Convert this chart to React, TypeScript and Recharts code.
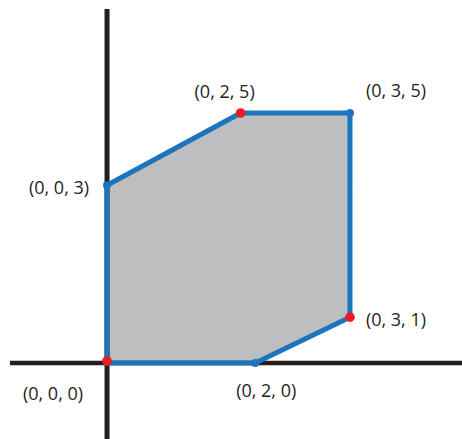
import React from "react";
import {
  ComposedChart,
  Area,
  Scatter,
  XAxis,
  YAxis,
  ReferenceLine,
} from "recharts";

// polygon vertices, in order round the outline (positions)
const vertexLabels = ["(0, 0, 0)", "(0, 0, 3)", "(0, 2, 5)", "(0, 3, 5)", "(0, 3, 1)", "(0, 2, 0)"];
const vertexX = [0, 0, 1.65, 3.0, 3.0, 1.83];
const vertexY = [0, 3.57, 5.02, 5.02, 0.92, 0];
const vertexMarked = [true, false, true, false, true, false];

// fill region as a band: low / high edge at each x
const bandX = [0, 1.65, 1.83, 3.0];
const bandLow = [0, 0, 0, 0.92];
const bandHigh = [3.57, 5.02, 5.02, 5.02];

const BLUE = "#1c75bc";
const RED = "#ed1c24";
const GRAY = "#bcbec0";
const INK = "#231f20";

// where each label sits relative to its vertex
const labelOffsets: [number, number][] = [
  [-54, 30],
  [-48, 2],
  [-16, -22],
  [46, -23],
  [46, 2],
  [11, 27],
];

const bandData = bandX.map((x, i) => ({ x, range: [bandLow[i], bandHigh[i]] }));

const outline = vertexX.map((x, i) => ({ x, y: vertexY[i], idx: i }));
// close the outline back at the first vertex
const outlineClosed = [...outline, { ...outline[0], idx: -1 }];

const Vertex = (props: any) => {
  const { cx, cy, payload } = props;
  if (payload.idx < 0) return <g />;
  const i = payload.idx;
  const [dx, dy] = labelOffsets[i];
  return (
    <g>
      <circle
        cx={cx}
        cy={i === 0 ? cy - 2 : cy}
        r={vertexMarked[i] ? 4.8 : 4}
        fill={vertexMarked[i] ? RED : BLUE}
      />
      <text
        x={cx + dx}
        y={cy + dy}
        textAnchor="middle"
        dominantBaseline="central"
        fill={INK}
        fontSize={18}
        fontFamily="'Open Sans', sans-serif"
      >
        {vertexLabels[i]}
      </text>
    </g>
  );
};

export default function App() {
  return (
    <div style={{ position: "absolute", left: 0, top: 0, background: "#fff" }}>
      <ComposedChart
        width={462}
        height={439}
        data={bandData}
        margin={{ top: 9, right: 0, bottom: 0, left: 10 }}
      >
        <XAxis type="number" dataKey="x" domain={[-1.198, 4.383]} allowDataOverflow hide />
        <YAxis type="number" domain={[-1.526, 7.108]} allowDataOverflow hide />
        <ReferenceLine x={0} stroke={INK} strokeWidth={5} />
        <ReferenceLine y={0} stroke={INK} strokeWidth={4.5} />
        <Area
          type="linear"
          dataKey="range"
          fill={GRAY}
          fillOpacity={1}
          stroke="#a7a9ac"
          strokeWidth={1}
          isAnimationActive={false}
        />
        <Scatter
          data={outlineClosed}
          dataKey="y"
          line={{ stroke: BLUE, strokeWidth: 5, strokeLinejoin: "round" }}
          lineJointType="linear"
          shape={<Vertex />}
          isAnimationActive={false}
        />
      </ComposedChart>
    </div>
  );
}
